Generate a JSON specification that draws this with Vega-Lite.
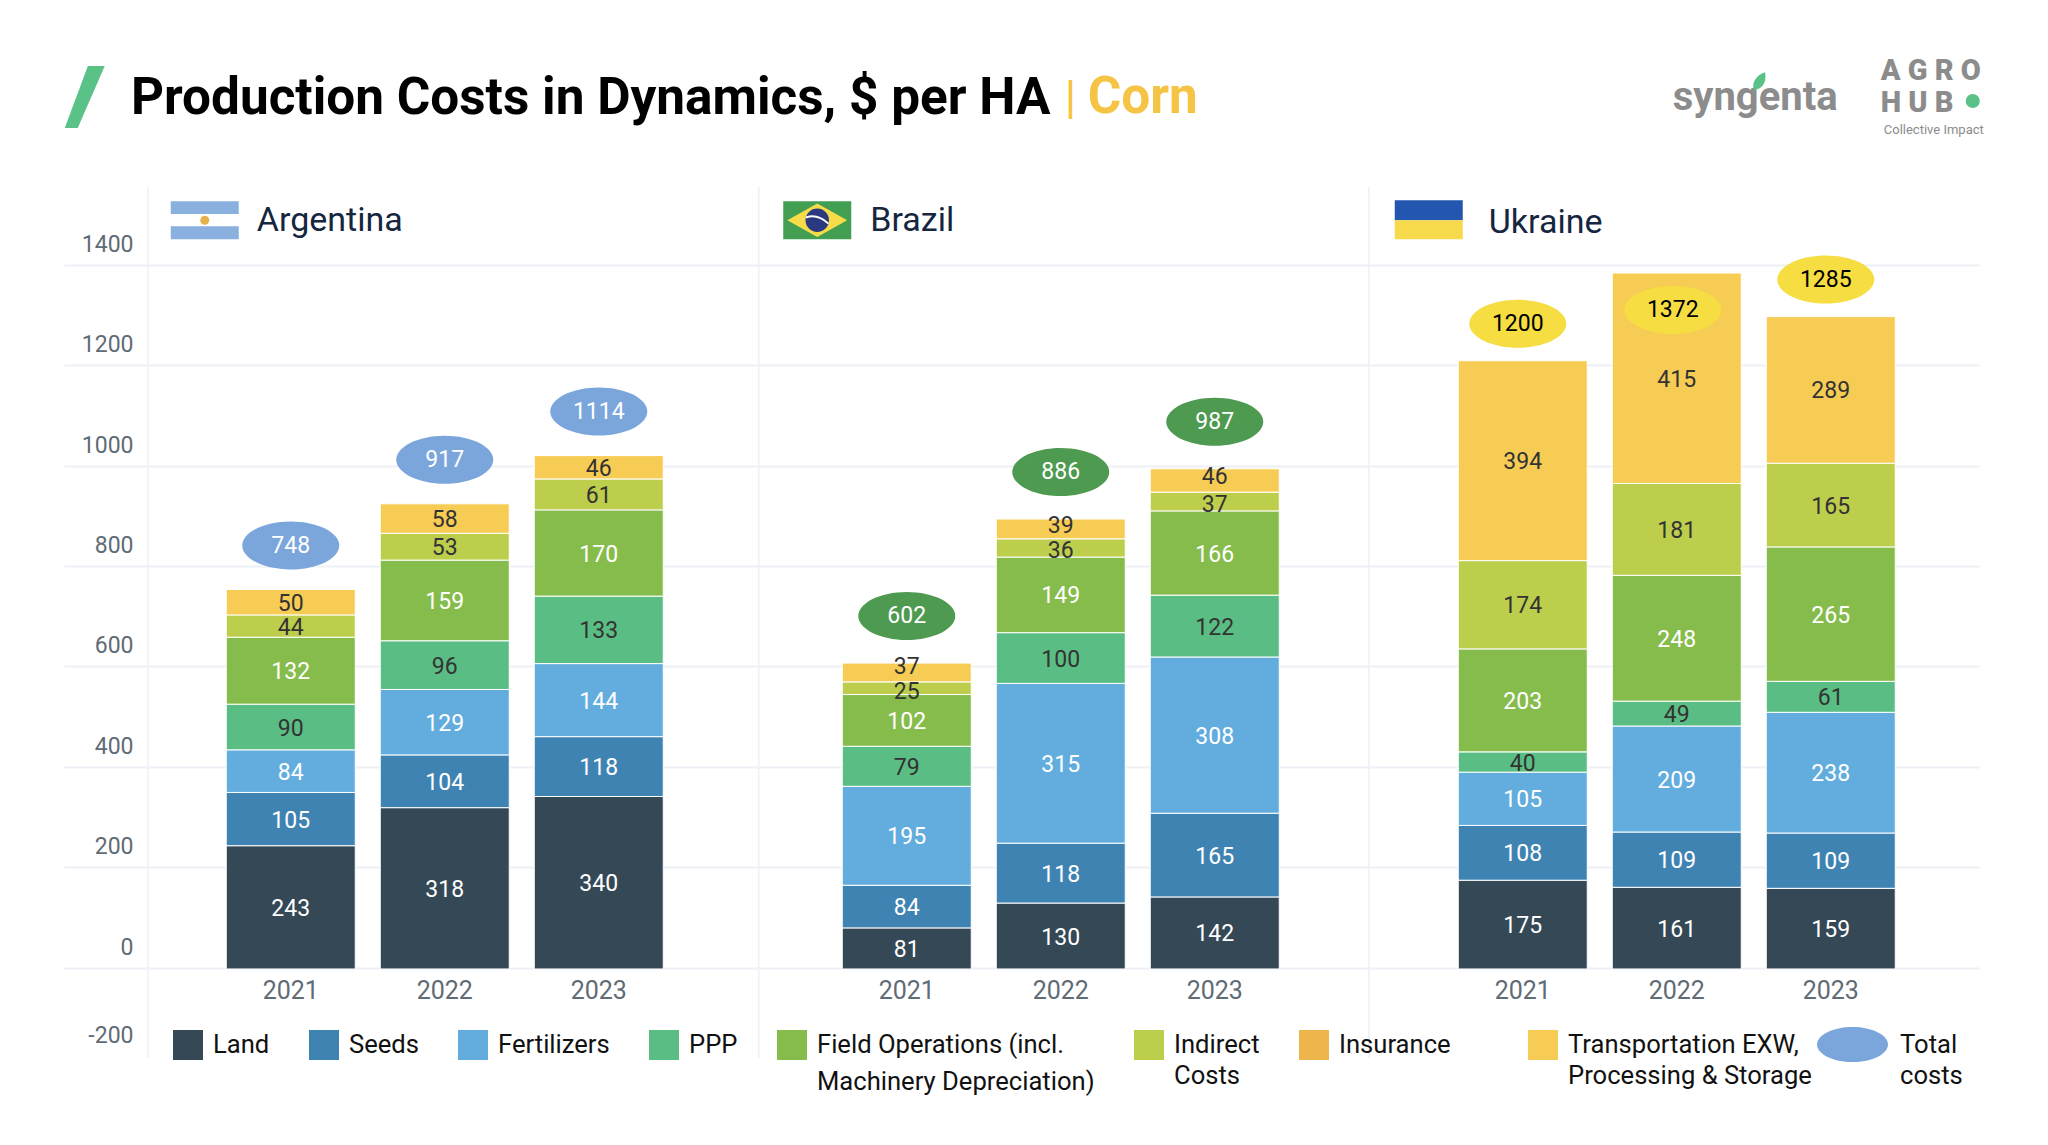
{
  "$schema": "https://vega.github.io/schema/vega-lite/v5.json",
  "width": 1831,
  "height": 881,
  "autosize": "none",
  "padding": {"left": 148, "top": 187, "right": 69, "bottom": 77},
  "background": "#ffffff",
  "title": {
    "text": "Production Costs in Dynamics, $ per HA",
    "anchor": "start",
    "frame": "group",
    "dx": -17,
    "dy": 108,
    "offset": 0,
    "baseline": "alphabetic",
    "font": "Roboto",
    "fontSize": 51.3,
    "fontWeight": "bold",
    "color": "#000000"
  },
  "datasets": {
    "costs": [
      {"slot": "Argentina 2021", "category": "Land", "rank": 1, "cost": 243},
      {"slot": "Argentina 2021", "category": "Seeds", "rank": 2, "cost": 105},
      {"slot": "Argentina 2021", "category": "Fertilizers", "rank": 3, "cost": 84},
      {"slot": "Argentina 2021", "category": "PPP", "rank": 4, "cost": 90},
      {"slot": "Argentina 2021", "category": "Field Operations", "rank": 5, "cost": 132},
      {"slot": "Argentina 2021", "category": "Indirect Costs", "rank": 6, "cost": 44},
      {"slot": "Argentina 2021", "category": "Transportation", "rank": 7, "cost": 50},
      {"slot": "Argentina 2022", "category": "Land", "rank": 1, "cost": 318},
      {"slot": "Argentina 2022", "category": "Seeds", "rank": 2, "cost": 104},
      {"slot": "Argentina 2022", "category": "Fertilizers", "rank": 3, "cost": 129},
      {"slot": "Argentina 2022", "category": "PPP", "rank": 4, "cost": 96},
      {"slot": "Argentina 2022", "category": "Field Operations", "rank": 5, "cost": 159},
      {"slot": "Argentina 2022", "category": "Indirect Costs", "rank": 6, "cost": 53},
      {"slot": "Argentina 2022", "category": "Transportation", "rank": 7, "cost": 58},
      {"slot": "Argentina 2023", "category": "Land", "rank": 1, "cost": 340},
      {"slot": "Argentina 2023", "category": "Seeds", "rank": 2, "cost": 118},
      {"slot": "Argentina 2023", "category": "Fertilizers", "rank": 3, "cost": 144},
      {"slot": "Argentina 2023", "category": "PPP", "rank": 4, "cost": 133},
      {"slot": "Argentina 2023", "category": "Field Operations", "rank": 5, "cost": 170},
      {"slot": "Argentina 2023", "category": "Indirect Costs", "rank": 6, "cost": 61},
      {"slot": "Argentina 2023", "category": "Transportation", "rank": 7, "cost": 46},
      {"slot": "Brazil 2021", "category": "Land", "rank": 1, "cost": 81},
      {"slot": "Brazil 2021", "category": "Seeds", "rank": 2, "cost": 84},
      {"slot": "Brazil 2021", "category": "Fertilizers", "rank": 3, "cost": 195},
      {"slot": "Brazil 2021", "category": "PPP", "rank": 4, "cost": 79},
      {"slot": "Brazil 2021", "category": "Field Operations", "rank": 5, "cost": 102},
      {"slot": "Brazil 2021", "category": "Indirect Costs", "rank": 6, "cost": 25},
      {"slot": "Brazil 2021", "category": "Transportation", "rank": 7, "cost": 37},
      {"slot": "Brazil 2022", "category": "Land", "rank": 1, "cost": 130},
      {"slot": "Brazil 2022", "category": "Seeds", "rank": 2, "cost": 118},
      {"slot": "Brazil 2022", "category": "Fertilizers", "rank": 3, "cost": 315},
      {"slot": "Brazil 2022", "category": "PPP", "rank": 4, "cost": 100},
      {"slot": "Brazil 2022", "category": "Field Operations", "rank": 5, "cost": 149},
      {"slot": "Brazil 2022", "category": "Indirect Costs", "rank": 6, "cost": 36},
      {"slot": "Brazil 2022", "category": "Transportation", "rank": 7, "cost": 39},
      {"slot": "Brazil 2023", "category": "Land", "rank": 1, "cost": 142},
      {"slot": "Brazil 2023", "category": "Seeds", "rank": 2, "cost": 165},
      {"slot": "Brazil 2023", "category": "Fertilizers", "rank": 3, "cost": 308},
      {"slot": "Brazil 2023", "category": "PPP", "rank": 4, "cost": 122},
      {"slot": "Brazil 2023", "category": "Field Operations", "rank": 5, "cost": 166},
      {"slot": "Brazil 2023", "category": "Indirect Costs", "rank": 6, "cost": 37},
      {"slot": "Brazil 2023", "category": "Transportation", "rank": 7, "cost": 46},
      {"slot": "Ukraine 2021", "category": "Land", "rank": 1, "cost": 175},
      {"slot": "Ukraine 2021", "category": "Seeds", "rank": 2, "cost": 108},
      {"slot": "Ukraine 2021", "category": "Fertilizers", "rank": 3, "cost": 105},
      {"slot": "Ukraine 2021", "category": "PPP", "rank": 4, "cost": 40},
      {"slot": "Ukraine 2021", "category": "Field Operations", "rank": 5, "cost": 203},
      {"slot": "Ukraine 2021", "category": "Indirect Costs", "rank": 6, "cost": 174},
      {"slot": "Ukraine 2021", "category": "Transportation", "rank": 7, "cost": 394},
      {"slot": "Ukraine 2022", "category": "Land", "rank": 1, "cost": 161},
      {"slot": "Ukraine 2022", "category": "Seeds", "rank": 2, "cost": 109},
      {"slot": "Ukraine 2022", "category": "Fertilizers", "rank": 3, "cost": 209},
      {"slot": "Ukraine 2022", "category": "PPP", "rank": 4, "cost": 49},
      {"slot": "Ukraine 2022", "category": "Field Operations", "rank": 5, "cost": 248},
      {"slot": "Ukraine 2022", "category": "Indirect Costs", "rank": 6, "cost": 181},
      {"slot": "Ukraine 2022", "category": "Transportation", "rank": 7, "cost": 415},
      {"slot": "Ukraine 2023", "category": "Land", "rank": 1, "cost": 159},
      {"slot": "Ukraine 2023", "category": "Seeds", "rank": 2, "cost": 109},
      {"slot": "Ukraine 2023", "category": "Fertilizers", "rank": 3, "cost": 238},
      {"slot": "Ukraine 2023", "category": "PPP", "rank": 4, "cost": 61},
      {"slot": "Ukraine 2023", "category": "Field Operations", "rank": 5, "cost": 265},
      {"slot": "Ukraine 2023", "category": "Indirect Costs", "rank": 6, "cost": 165},
      {"slot": "Ukraine 2023", "category": "Transportation", "rank": 7, "cost": 289}
    ],
    "totals": [
      {"slot": "Argentina 2021", "country": "Argentina", "total": 748, "stacked": 748},
      {"slot": "Argentina 2022", "country": "Argentina", "total": 917, "stacked": 917},
      {"slot": "Argentina 2023", "country": "Argentina", "total": 1114, "stacked": 1012},
      {"slot": "Brazil 2021", "country": "Brazil", "total": 602, "stacked": 603},
      {"slot": "Brazil 2022", "country": "Brazil", "total": 886, "stacked": 887},
      {"slot": "Brazil 2023", "country": "Brazil", "total": 987, "stacked": 986},
      {"slot": "Ukraine 2021", "country": "Ukraine", "total": 1200, "stacked": 1199},
      {"slot": "Ukraine 2022", "country": "Ukraine inside", "total": 1372, "stacked": 1372},
      {"slot": "Ukraine 2023", "country": "Ukraine", "total": 1285, "stacked": 1286}
    ],
    "countries": [
      {"slot": "Argentina 2021", "country": "Argentina"},
      {"slot": "Brazil 2021", "country": "Brazil"},
      {"slot": "Ukraine 2021", "country": "Ukraine"}
    ],
    "one": [{"item": "decoration"}]
  },
  "data": {"name": "costs"},
  "resolve": {"scale": {"y": "independent"}},
  "encoding": {
    "x": {
      "field": "slot",
      "type": "nominal",
      "title": null,
      "sort": null,
      "scale": {
        "domain": ["Argentina 2021", "Argentina 2022", "Argentina 2023", "gap1", "Brazil 2021", "Brazil 2022", "Brazil 2023", "gap2", "Ukraine 2021", "Ukraine 2022", "Ukraine 2023"],
        "paddingInner": 0,
        "paddingOuter": 0.4448,
        "align": 0.48
      },
      "axis": {
        "orient": "bottom",
        "offset": -101,
        "domain": false,
        "ticks": false,
        "grid": false,
        "labelAngle": 0,
        "labelFont": "Roboto",
        "labelFontSize": 25,
        "labelColor": "#5F6B75",
        "labelPadding": 11,
        "labelExpr": "indexof(datum.value, 'gap') == 0 ? '' : slice(datum.value, -4)"
      }
    }
  },
  "layer": [
    {
      "data": {"name": "one"},
      "encoding": {
        "y": {
          "datum": 0,
          "type": "quantitative",
          "title": null,
          "scale": {"domain": [-200, 1555], "nice": false, "zero": false},
          "axis": {
            "values": [-200, 0, 200, 400, 600, 800, 1000, 1200, 1400],
            "labelExpr": "'' + datum.value",
            "grid": true,
            "gridColor": {"condition": {"test": "datum.value < 0", "value": "transparent"}, "value": "#EEF0F5"},
            "gridWidth": 2,
            "tickColor": {"condition": {"test": "datum.value < 0", "value": "transparent"}, "value": "#EEF0F5"},
            "tickWidth": 2,
            "tickSize": 84,
            "domain": false,
            "labelFont": "Roboto",
            "labelFontSize": 23,
            "labelColor": "#5F6B75",
            "labelPadding": -69,
            "labelOffset": {"condition": {"test": "datum.value < 0", "value": -33}, "value": -20.5}
          }
        }
      },
      "layer": [
        {
          "mark": {"type": "rule", "opacity": 0},
          "encoding": {"x": {"datum": "gap1"}}
        },
        {
          "mark": {"type": "rule", "color": "#EEF0F5", "strokeWidth": 1.5, "xOffset": -142.8},
          "encoding": {"x": {"datum": "Argentina 2021"}, "y": {"datum": 1555, "type": "quantitative"}, "y2": {"datum": -180}}
        },
        {
          "mark": {"type": "rule", "color": "#EEF0F5", "strokeWidth": 1.5, "xOffset": 6},
          "encoding": {"x": {"datum": "gap1"}, "y": {"datum": 1555, "type": "quantitative"}, "y2": {"datum": -180}}
        },
        {
          "mark": {"type": "rule", "color": "#EEF0F5", "strokeWidth": 1.5},
          "encoding": {"x": {"datum": "gap2"}, "y": {"datum": 1555, "type": "quantitative"}, "y2": {"datum": -180}}
        }
      ]
    },
    {
      "layer": [
        {
          "mark": {"type": "bar", "size": 129, "stroke": "#ffffff", "strokeWidth": 1},
          "encoding": {
            "y": {
              "field": "cost",
              "type": "quantitative",
              "stack": "zero",
              "title": null,
              "scale": {"domain": [-195.2, 1541.5], "nice": false, "zero": false},
              "axis": null
            },
            "color": {
              "field": "category",
              "type": "nominal",
              "scale": {
                "domain": ["Land", "Seeds", "Fertilizers", "PPP", "Field Operations", "Indirect Costs", "Insurance", "Transportation"],
                "range": ["#344856", "#3F83B3", "#62ADDE", "#5ABE84", "#86BC4C", "#BDCE4D", "#EDB54C", "#F7CC55"]
              },
              "legend": {
                "orient": "none",
                "legendX": 25,
                "legendY": 843,
                "direction": "horizontal",
                "columns": 8,
                "title": null,
                "gridAlign": "none",
                "symbolType": "square",
                "symbolSize": 900,
                "symbolStrokeWidth": 0,
                "columnPadding": 39,
                "labelOffset": 10,
                "labelFont": "Roboto",
                "labelFontSize": 25.6,
                "labelColor": "#111111",
                "labelLimit": 400,
                "labelBaseline": "middle",
                "labelExpr": "datum.label == 'Field Operations' ? ['Field Operations (incl.', 'Machinery Depreciation)'] : datum.label == 'Indirect Costs' ? ['Indirect', 'Costs'] : datum.label == 'Transportation' ? ['Transportation EXW,', 'Processing & Storage'] : datum.label == 'Insurance' ? 'Insurance\u2800\u2800' : datum.label",
                "encoding": {
                  "symbols": {"fill": {"value": {"expr": "datum.label == 'Transportation' ? '#EDB54C' : scale('color', datum.value)"}}},
                  "labels": {
                    "lineHeight": {"value": {"expr": "datum.label == 'Field Operations' ? 37 : 31"}}
                  }
                }
              }
            },
            "order": {"field": "rank"}
          }
        },
        {
          "mark": {
            "type": "text",
            "font": "Roboto",
            "fontSize": 23,
            "dy": {"expr": "indexof(datum.slot, 'Brazil') == 0 && datum.category == 'Transportation' ? (datum.cost == 37 ? -5 : -3) : indexof(datum.slot, 'Brazil') == 0 && datum.category == 'Indirect Costs' ? 3.5 : 1.5"}
          },
          "encoding": {
            "y": {"field": "cost", "type": "quantitative", "stack": "zero", "bandPosition": 0.5},
            "order": {"field": "rank"},
            "text": {"field": "cost", "type": "quantitative"},
            "color": {
              "condition": {"test": "indexof(['PPP', 'Indirect Costs', 'Transportation'], datum.category) >= 0", "value": "#333333"},
              "value": "#ffffff"
            }
          }
        },
        {
          "data": {"name": "totals"},
          "transform": [{"filter": "datum.country == 'Argentina'"}],
          "encoding": {"y": {"field": "stacked", "type": "quantitative"}},
          "layer": [
            {
              "mark": {"type": "point", "filled": true, "size": 9409, "fill": "#7BA6DC", "opacity": 1, "yOffset": -44},
              "encoding": {"shape": {
                "datum": "Total costs",
                "scale": {"domain": ["Total costs"], "range": ["M-1,0C-1,-0.27 -0.55,-0.495 0,-0.495C0.55,-0.495 1,-0.27 1,0C1,0.27 0.55,0.495 0,0.495C-0.55,0.495 -1,0.27 -1,0Z"]},
                "legend": {
                  "orient": "none",
                  "legendX": 1669,
                  "legendY": 822,
                  "title": null,
                  "symbolSize": 5041,
                  "symbolFillColor": "#7BA6DC",
                  "symbolStrokeWidth": 0,
                  "labelOffset": 12,
                  "labelFont": "Roboto",
                  "labelFontSize": 25.6,
                  "labelColor": "#111111",
                  "labelBaseline": "middle",
                  "labelExpr": "['Total', 'costs']",
                  "encoding": {"labels": {"lineHeight": {"value": 31}}}
                }
              }}
            },
            {
              "mark": {"type": "text", "font": "Roboto", "fontSize": 23, "color": "#ffffff", "yOffset": -44},
              "encoding": {"text": {"field": "total", "type": "quantitative"}}
            }
          ]
        },
        {
          "data": {"name": "totals"},
          "transform": [{"filter": "datum.country == 'Brazil'"}],
          "encoding": {"y": {"field": "stacked", "type": "quantitative"}},
          "layer": [
            {
              "mark": {"type": "point", "filled": true, "size": 9409, "fill": "#4E9A51", "opacity": 1, "yOffset": -47},
              "encoding": {"shape": {"datum": "Total costs"}}
            },
            {
              "mark": {"type": "text", "font": "Roboto", "fontSize": 23, "color": "#ffffff", "yOffset": -47},
              "encoding": {"text": {"field": "total", "type": "quantitative"}}
            }
          ]
        },
        {
          "data": {"name": "totals"},
          "transform": [{"filter": "datum.country == 'Ukraine'"}],
          "encoding": {"y": {"field": "stacked", "type": "quantitative"}},
          "layer": [
            {
              "mark": {"type": "point", "filled": true, "size": 9409, "fill": "#F5DD42", "opacity": 1, "xOffset": -5, "yOffset": -37},
              "encoding": {"shape": {"datum": "Total costs"}}
            },
            {
              "mark": {"type": "text", "font": "Roboto", "fontSize": 23, "color": "#000000", "xOffset": -5, "yOffset": -37},
              "encoding": {"text": {"field": "total", "type": "quantitative"}}
            }
          ]
        },
        {
          "data": {"name": "totals"},
          "transform": [{"filter": "datum.country == 'Ukraine inside'"}],
          "encoding": {"y": {"field": "stacked", "type": "quantitative"}},
          "layer": [
            {
              "mark": {"type": "point", "filled": true, "size": 9409, "fill": "#F5DD42", "opacity": 1, "xOffset": -4, "yOffset": 37},
              "encoding": {"shape": {"datum": "Total costs"}}
            },
            {
              "mark": {"type": "text", "font": "Roboto", "fontSize": 23, "color": "#000000", "xOffset": -4, "yOffset": 37},
              "encoding": {"text": {"field": "total", "type": "quantitative"}}
            }
          ]
        },
        {
          "data": {"name": "countries"},
          "mark": {
            "type": "text",
            "font": "Roboto",
            "fontSize": 34,
            "color": "#16263F",
            "align": "left",
            "dx": {"expr": "datum.country == 'Brazil' ? -36.5 : -34"},
            "dy": {"expr": "datum.country == 'Ukraine' ? 2 : 0"}
          },
          "encoding": {
            "y": {"datum": 1474.5, "type": "quantitative"},
            "text": {"field": "country", "type": "nominal"}
          }
        },
        {
          "data": {"name": "one"},
          "mark": {"type": "point", "filled": true, "size": 3844, "opacity": 1, "fill": "#5BC287", "xOffset": -206, "shape": "M0.1,-1L0.645,-1L-0.226,1L-0.645,1Z"},
          "encoding": {"x": {"datum": "Argentina 2021"}, "y": {"datum": 1719, "type": "quantitative"}}
        },
        {
          "data": {"name": "one"},
          "mark": {"type": "text", "font": "Roboto", "fontSize": 47, "color": "#F6C444", "align": "left", "baseline": "alphabetic", "dx": 158},
          "encoding": {"x": {"datum": "Brazil 2021"}, "y": {"datum": 1687, "type": "quantitative"}, "text": {"value": "|"}}
        },
        {
          "data": {"name": "one"},
          "mark": {"type": "text", "font": "Roboto", "fontSize": 51.3, "fontWeight": "bold", "color": "#F6C444", "align": "left", "baseline": "alphabetic", "dx": 181},
          "encoding": {"x": {"datum": "Brazil 2021"}, "y": {"datum": 1687, "type": "quantitative"}, "text": {"value": "Corn"}}
        },
        {
          "data": {"name": "one"},
          "mark": {"type": "point", "filled": true, "size": 4624, "opacity": 1, "fill": "#89B0DE", "xOffset": -86, "shape": "M-1,-0.56L1,-0.56L1,-0.18L-1,-0.18ZM-1,0.18L1,0.18L1,0.56L-1,0.56Z"},
          "encoding": {"x": {"datum": "Argentina 2021"}, "y": {"datum": 1476, "type": "quantitative"}}
        },
        {
          "data": {"name": "one"},
          "mark": {"type": "point", "filled": true, "size": 80, "opacity": 1, "fill": "#E8B04B", "shape": "circle", "xOffset": -86},
          "encoding": {"x": {"datum": "Argentina 2021"}, "y": {"datum": 1476, "type": "quantitative"}}
        },
        {
          "data": {"name": "one"},
          "mark": {"type": "point", "filled": true, "size": 4624, "opacity": 1, "fill": "#429E50", "xOffset": -89.5, "shape": "M-1,-0.56L1,-0.56L1,0.56L-1,0.56Z"},
          "encoding": {"x": {"datum": "Brazil 2021"}, "y": {"datum": 1476, "type": "quantitative"}}
        },
        {
          "data": {"name": "one"},
          "mark": {"type": "point", "filled": true, "size": 4624, "opacity": 1, "fill": "#F7DC4A", "xOffset": -89.5, "shape": "M-0.88,0L0,-0.49L0.88,0L0,0.49Z"},
          "encoding": {"x": {"datum": "Brazil 2021"}, "y": {"datum": 1476, "type": "quantitative"}}
        },
        {
          "data": {"name": "one"},
          "mark": {"type": "point", "filled": true, "size": 550, "opacity": 1, "fill": "#2B3A80", "shape": "circle", "xOffset": -89.5},
          "encoding": {"x": {"datum": "Brazil 2021"}, "y": {"datum": 1476, "type": "quantitative"}}
        },
        {
          "data": {"name": "one"},
          "mark": {"type": "point", "filled": false, "size": 4624, "opacity": 1, "stroke": "#ffffff", "strokeWidth": 2, "xOffset": -89.5, "shape": "M-0.33,-0.08Q0,-0.2 0.33,0.1"},
          "encoding": {"x": {"datum": "Brazil 2021"}, "y": {"datum": 1476, "type": "quantitative"}}
        },
        {
          "data": {"name": "one"},
          "mark": {"type": "point", "filled": true, "size": 4624, "opacity": 1, "fill": "#2356AE", "xOffset": -94, "shape": "M-1,-0.59L1,-0.59L1,0L-1,0Z"},
          "encoding": {"x": {"datum": "Ukraine 2021"}, "y": {"datum": 1476, "type": "quantitative"}}
        },
        {
          "data": {"name": "one"},
          "mark": {"type": "point", "filled": true, "size": 4624, "opacity": 1, "fill": "#F7DA4B", "xOffset": -94, "shape": "M-1,0L1,0L1,0.56L-1,0.56Z"},
          "encoding": {"x": {"datum": "Ukraine 2021"}, "y": {"datum": 1476, "type": "quantitative"}}
        },
        {
          "data": {"name": "one"},
          "mark": {"type": "text", "font": "Roboto", "fontSize": 40, "fontWeight": "bold", "color": "#8C8C8C", "align": "left", "baseline": "alphabetic", "dx": -158},
          "encoding": {"x": {"datum": "Ukraine 2023"}, "y": {"datum": 1693, "type": "quantitative"}, "text": {"value": "syngenta"}}
        },
        {
          "data": {"name": "one"},
          "mark": {"type": "point", "filled": true, "size": 324, "opacity": 1, "fill": "#5BC287", "xOffset": -72, "shape": "M-0.5,1C-0.9,0.3 -0.3,-0.7 0.7,-1C0.9,0 0.5,0.8 -0.5,1Z"},
          "encoding": {"x": {"datum": "Ukraine 2023"}, "y": {"datum": 1750, "type": "quantitative"}}
        },
        {
          "data": {"name": "one"},
          "mark": {"type": "text", "font": "Roboto", "fontSize": 29, "fontWeight": 900, "color": "#8C8C8C", "align": "left", "baseline": "alphabetic", "dx": 50},
          "encoding": {"x": {"datum": "Ukraine 2023"}, "y": {"datum": 1752, "type": "quantitative"}, "text": {"value": "A G R O"}}
        },
        {
          "data": {"name": "one"},
          "mark": {"type": "text", "font": "Roboto", "fontSize": 29, "fontWeight": 900, "color": "#8C8C8C", "align": "left", "baseline": "alphabetic", "dx": 50},
          "encoding": {"x": {"datum": "Ukraine 2023"}, "y": {"datum": 1689, "type": "quantitative"}, "text": {"value": "H U B"}}
        },
        {
          "data": {"name": "one"},
          "mark": {"type": "point", "filled": true, "size": 200, "opacity": 1, "fill": "#5BC287", "shape": "circle", "xOffset": 142},
          "encoding": {"x": {"datum": "Ukraine 2023"}, "y": {"datum": 1711, "type": "quantitative"}}
        },
        {
          "data": {"name": "one"},
          "mark": {"type": "text", "font": "Roboto", "fontSize": 13, "color": "#8C8C8C", "align": "left", "baseline": "alphabetic", "dx": 53},
          "encoding": {"x": {"datum": "Ukraine 2023"}, "y": {"datum": 1646, "type": "quantitative"}, "text": {"value": "Collective Impact"}}
        }
      ]
    }
  ],
  "config": {"view": {"stroke": null}}
}
